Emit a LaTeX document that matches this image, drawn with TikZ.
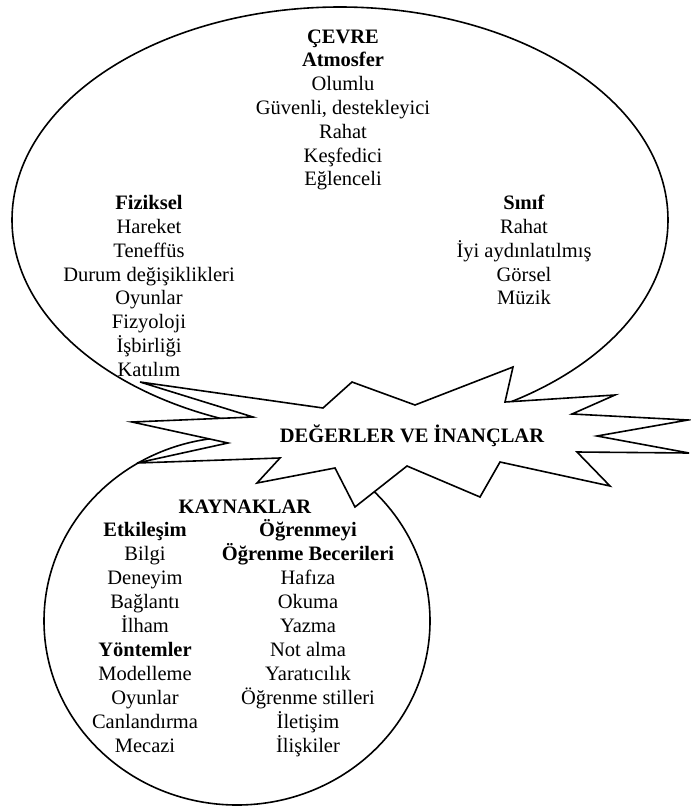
\documentclass[tikz,border=0pt]{standalone}
\usepackage{fontspec}
\setmainfont{Liberation Serif}
\begin{document}
\begin{tikzpicture}[x=1pt,y=-1pt,
  txt/.style={font=\fontsize{20.5}{24}\selectfont, anchor=base, inner sep=0pt},
  bld/.style={font=\fontsize{20.5}{24}\selectfont\bfseries, anchor=base, inner sep=0pt},
  outline/.style={line width=1.6pt, draw=black}]
\useasboundingbox (0,0) rectangle (691,809);
% bubbles
\draw[outline] (340,220) ellipse [x radius=328pt, y radius=213pt];
\draw[outline] (237,621) ellipse [x radius=193pt, y radius=184pt];
% star burst
\draw[outline, fill=white, line join=miter]
  (140,382) -- (323,408) -- (352,382) -- (415,405) -- (513,367) -- (505,402)
  -- (615,395) -- (572,414) -- (688,420) -- (597,436) -- (689,453) -- (577,452)
  -- (610,486) -- (500,462) -- (480,497) -- (407,466) -- (355,507) -- (335,468)
  -- (257,483) -- (280,458) -- (137,463) -- (228,443) -- (132,422) -- (253,417)
  -- cycle;
\node[bld] (values) at (412,442) {DEĞERLER VE İNANÇLAR};
% top bubble text
\foreach \t [count=\i from 0] in {\textbf{ÇEVRE}, \textbf{Atmosfer}, Olumlu,
   {Güvenli, destekleyici}, Rahat, Keşfedici, Eğlenceli}
  \node[txt] (top\i) at (343,43+23.8*\i) {\t};
\foreach \t [count=\i from 7] in {\textbf{Fiziksel}, Hareket, Teneffüs,
   Durum değişiklikleri, Oyunlar, Fizyoloji, İşbirliği, Katılım}
  \node[txt] (left\i) at (149,43+23.8*\i) {\t};
\foreach \t [count=\i from 7] in {\textbf{Sınıf}, Rahat, İyi aydınlatılmış,
   Görsel, Müzik}
  \node[txt] (right\i) at (524,43+23.8*\i) {\t};
% bottom bubble text
\node[bld] (res) at (245,513) {KAYNAKLAR};
\foreach \t [count=\i from 1] in {\textbf{Etkileşim}, Bilgi, Deneyim, Bağlantı,
   İlham, \textbf{Yöntemler}, Modelleme, Oyunlar, Canlandırma, Mecazi}
  \node[txt] (bl\i) at (145,513+23.9*\i) {\t};
\foreach \t [count=\i from 1] in {\textbf{Öğrenmeyi}, \textbf{Öğrenme Becerileri},
   Hafıza, Okuma, Yazma, Not alma, Yaratıcılık, Öğrenme stilleri, İletişim, İlişkiler}
  \node[txt] (br\i) at (308,513+23.9*\i) {\t};
\end{tikzpicture}
\end{document}
